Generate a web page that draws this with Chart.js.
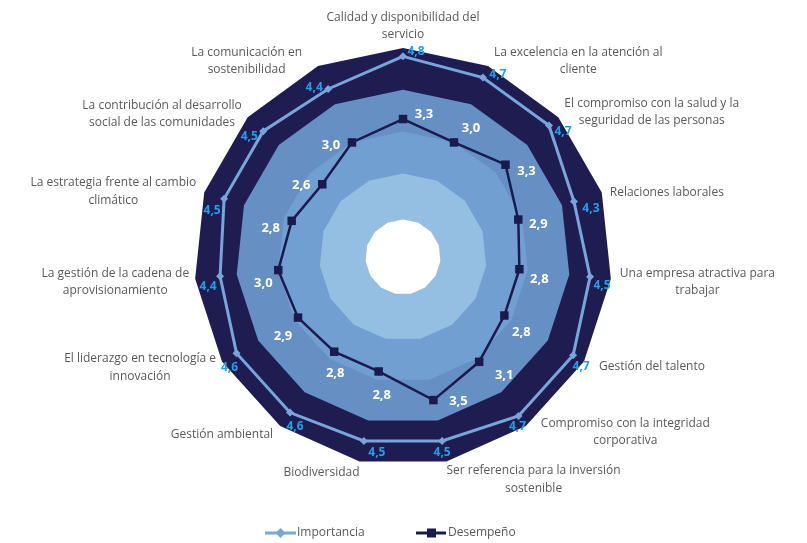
<!DOCTYPE html>
<html><head><meta charset="utf-8">
<script src="https://cdn.jsdelivr.net/npm/chart.js@4.4.1/dist/chart.umd.min.js"></script>
<style>html,body{margin:0;padding:0;background:#fff;}#wrap{width:807px;height:543px;}</style>
</head><body><div id="wrap"><canvas id="c" width="807" height="543"></canvas></div>
<script>
const categories = [
  ["Calidad y disponibilidad del", "servicio"],
  ["La excelencia en la atención al", "cliente"],
  ["El compromiso con la salud y la", "seguridad de las personas"],
  ["Relaciones laborales"],
  ["Una empresa atractiva para", "trabajar"],
  ["Gestión del talento"],
  ["Compromiso con la integridad", "corporativa"],
  ["Ser referencia para la inversión", "sostenible"],
  ["Biodiversidad"],
  ["Gestión ambiental"],
  ["El liderazgo en tecnología e", "innovación"],
  ["La gestión de la cadena de", "aprovisionamiento"],
  ["La estrategia frente al cambio", "climático"],
  ["La contribución al desarrollo", "social de las comunidades"],
  ["La comunicación en", "sostenibilidad"]
];
const importancia = [4.8, 4.7, 4.7, 4.3, 4.5, 4.7, 4.7, 4.5, 4.5, 4.6, 4.6, 4.4, 4.5, 4.5, 4.4];
const desempeno   = [3.3, 3.0, 3.3, 2.9, 2.8, 2.8, 3.1, 3.5, 2.8, 2.8, 2.9, 3.0, 2.8, 2.6, 3.0];
const seriesNames = ["Importancia", "Desempeño"];
const bandLevels = [0.9, 2, 3, 4, 5];
const scaleMin = 0, scaleMax = 5;

// styles / placement (not data)
const bandColors = ["#ffffff", "#95bee3", "#729fd2", "#6690c4", "#1f1c52"];
const impColor = "#78a6db", desColor = "#1b1a4d";
const impLabelColor = "#1fa0e8", textColor = "#5a5a5a";
// category label placement: [gap from vertex (signed by side), dy of block centre]
const catGap = [0, 6, 6, 8, 9, 15, 15, 0, 0, 7, 6, 6, 8, 6, 16];
const catDy  = [-22, -5, -5, 0, 3, 5, 6, 18, 11, 8, 6, 3, -1, -3, -5];
const catAlign = ["center","left","left","left","left","left","left","left","right","right","right","right","right","right","right"];
const desOff = [[21,-5],[17,-14],[21,7],[20,5],[20,10],[17,17],[25,13],[25,1],[3,24],[1,22],[-15,19],[-15,13],[-21,7],[-21,1],[-21,3]];
const impOff = [[13,-5],[15,-3],[14,6],[17,7],[12,9],[8,11],[-1,11],[0,12],[13,12],[5,14],[-7,14],[-12,10],[-12,12],[-14,5],[-14,-1]];

const fmt = v => v.toFixed(1).replace('.', ',');

const bandSets = bandLevels.map((lvl, i) => ({
  label: "band" + i,
  data: categories.map(() => lvl),
  backgroundColor: bandColors[i],
  borderWidth: 0,
  pointRadius: 0,
  fill: 'origin'
}));

const labelsPlugin = {
  id: 'customLabels',
  afterDatasetsDraw(chart) {
    const ctx = chart.ctx;
    const scale = chart.scales.r;
    ctx.save();
    ctx.textAlign = 'center';
    ctx.textBaseline = 'middle';
    // Desempeño labels
    ctx.font = 'bold 13px "Open Sans"';
    ctx.fillStyle = '#ffffff';
    desempeno.forEach((v, i) => {
      const p = scale.getPointPositionForValue(i, v);
      ctx.fillText(fmt(v), p.x + desOff[i][0], p.y + desOff[i][1]);
    });
    // Importancia labels
    ctx.font = 'bold 12px "Open Sans"';
    ctx.fillStyle = impLabelColor;
    importancia.forEach((v, i) => {
      const p = scale.getPointPositionForValue(i, v);
      ctx.fillText(fmt(v), p.x + impOff[i][0], p.y + impOff[i][1]);
    });
    // category labels
    ctx.font = '12px "Open Sans"';
    ctx.fillStyle = textColor;
    const lh = 17.5;
    categories.forEach((lines, i) => {
      const p = scale.getPointPositionForValue(i, scaleMax);
      const w = Math.max(...lines.map(l => ctx.measureText(l).width));
      let cx;
      if (catAlign[i] === 'left') cx = p.x + catGap[i] + w / 2;
      else if (catAlign[i] === 'right') cx = p.x - catGap[i] - w / 2;
      else cx = p.x;
      const cy = p.y + catDy[i];
      const y0 = cy - (lines.length - 1) * lh / 2;
      lines.forEach((l, k) => ctx.fillText(l, cx, y0 + k * lh));
    });
    // legend
    const ly = 533;
    ctx.font = '12px "Open Sans"';
    ctx.textAlign = 'left';
    // Importancia
    ctx.strokeStyle = impColor; ctx.lineWidth = 3;
    ctx.beginPath(); ctx.moveTo(265, ly); ctx.lineTo(296, ly); ctx.stroke();
    ctx.fillStyle = impColor;
    ctx.beginPath(); ctx.moveTo(280.5, ly - 5); ctx.lineTo(285.5, ly); ctx.lineTo(280.5, ly + 5); ctx.lineTo(275.5, ly); ctx.closePath(); ctx.fill();
    ctx.fillStyle = textColor;
    ctx.fillText(seriesNames[0], 297, ly);
    // Desempeño
    ctx.strokeStyle = desColor; ctx.lineWidth = 3;
    ctx.beginPath(); ctx.moveTo(416, ly); ctx.lineTo(446, ly); ctx.stroke();
    ctx.fillStyle = desColor;
    ctx.fillRect(427, ly - 4.5, 9, 9);
    ctx.fillStyle = textColor;
    ctx.fillText(seriesNames[1], 448, ly);
    ctx.restore();
  }
};

new Chart(document.getElementById('c'), {
  type: 'radar',
  data: {
    labels: categories,
    datasets: [
      {
        label: seriesNames[1], data: desempeno, borderColor: desColor, borderWidth: 2.5,
        backgroundColor: desColor, pointStyle: 'rect', pointRadius: 6, pointBackgroundColor: desColor,
        pointBorderWidth: 0, fill: false
      },
      {
        label: seriesNames[0], data: importancia, borderColor: impColor, borderWidth: 3,
        backgroundColor: impColor, pointStyle: 'rectRot', pointRadius: 4, pointBackgroundColor: impColor,
        pointBorderWidth: 0, fill: false
      },
      ...bandSets
    ]
  },
  options: {
    responsive: false,
    animation: false,
    devicePixelRatio: 1,
    layout: { padding: { top: 48, bottom: 77, left: 0, right: 0 } },
    plugins: { legend: { display: false }, tooltip: { enabled: false } },
    elements: { line: { tension: 0 } },
    scales: {
      r: {
        min: scaleMin, max: scaleMax, startAngle: 0,
        ticks: { display: false },
        grid: { display: false },
        angleLines: { display: false },
        pointLabels: { display: false }
      }
    }
  },
  plugins: [labelsPlugin]
});
</script>
</body></html>
